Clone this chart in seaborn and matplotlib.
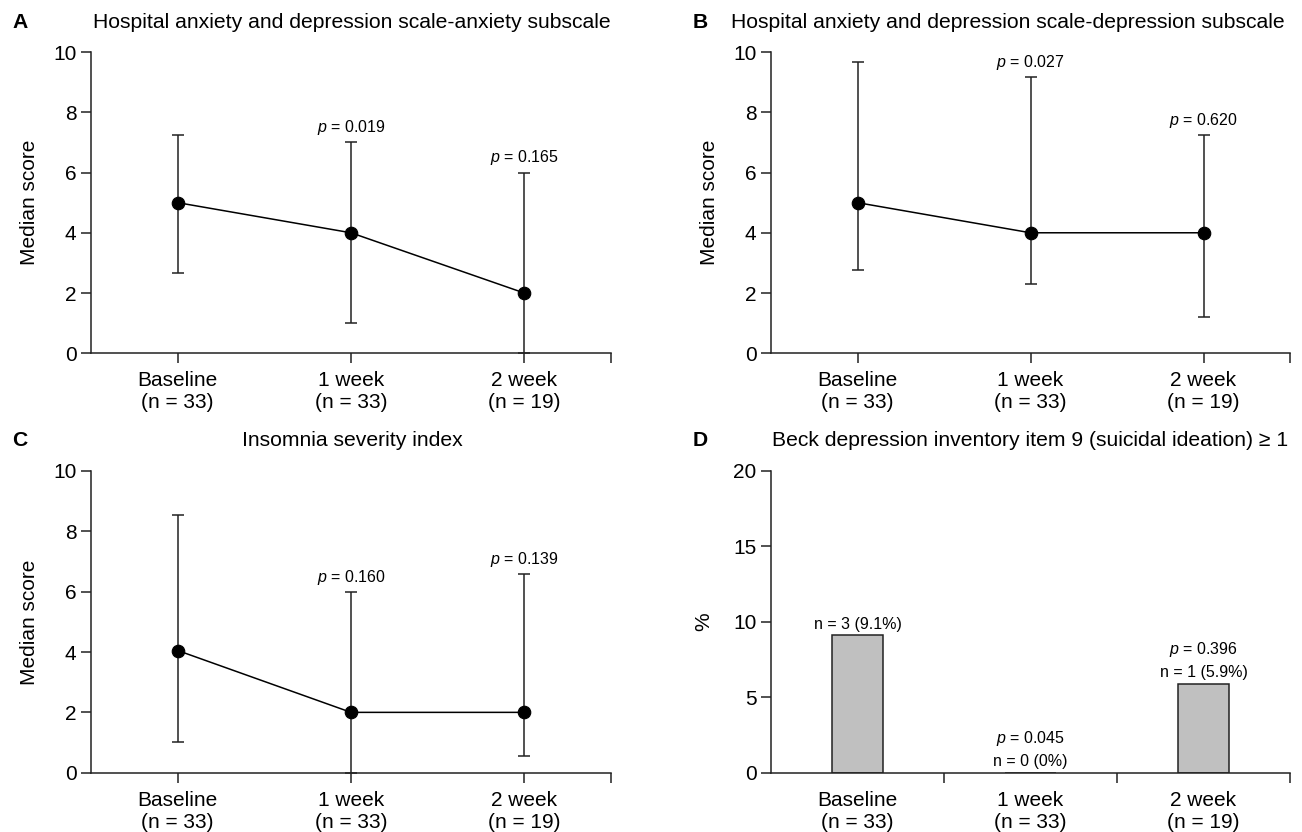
import matplotlib
matplotlib.use("Agg")
import matplotlib.pyplot as plt
import seaborn as sns
import pandas as pd

sns.set_style("ticks")
plt.rcParams['font.family'] = ['Liberation Sans', 'DejaVu Sans']
plt.rcParams['mathtext.fontset'] = 'custom'
plt.rcParams['mathtext.rm'] = 'Liberation Sans'
plt.rcParams['mathtext.it'] = 'Liberation Sans:italic'
plt.rcParams['text.color'] = 'black'
plt.rcParams['axes.labelcolor'] = 'black'
plt.rcParams['axes.edgecolor'] = '#222222'

# data
categories = ['Baseline\n(n = 33)', '1 week\n(n = 33)', '2 week\n(n = 19)']

hads_anx_median = [5.0, 4.0, 2.0]
hads_anx_low = [2.67, 1.0, 0.0]
hads_anx_high = [7.25, 7.0, 6.0]
hads_anx_p = [None, '0.019', '0.165']

hads_dep_median = [5.0, 4.0, 4.0]
hads_dep_low = [2.75, 2.3, 1.22]
hads_dep_high = [9.67, 9.17, 7.23]
hads_dep_p = [None, '0.027', '0.620']

isi_median = [4.05, 2.0, 2.0]
isi_low = [1.03, 0.0, 0.55]
isi_high = [8.54, 6.0, 6.59]
isi_p = [None, '0.160', '0.139']

bdi_pct = [9.1, 0.0, 5.9]
bdi_n = ['n = 3 (9.1%)', 'n = 0 (0%)', 'n = 1 (5.9%)']
bdi_p = [None, '0.045', '0.396']

W, H = 1302, 832
TICK_FS = 15
TITLE_FS = 15.2
SMALL_FS = 11.5
INK = '#222222'


def style_axis(ax):
    sns.despine(ax=ax)
    for sp in ax.spines.values():
        sp.set_linewidth(1.1)
        sp.set_color(INK)
    ax.tick_params(axis='both', which='both', direction='out', length=7,
                   width=1.1, labelsize=TICK_FS, color=INK, labelcolor='black')
    ax.tick_params(axis='x', pad=6)
    ax.set_xlim(-0.5, 2.5)


def line_panel(ax, median, low, high, pvals):
    df = pd.DataFrame({'time': categories, 'score': median})
    err_lo = [m - l for m, l in zip(median, low)]
    err_hi = [h - m for m, h in zip(median, high)]
    ax.errorbar(range(len(median)), median, yerr=[err_lo, err_hi], fmt='none',
                ecolor=INK, elinewidth=1.1, capsize=4.5, capthick=1.1, zorder=2)
    sns.pointplot(data=df, x='time', y='score', color='black', markers='o',
                  linewidth=1.1, markersize=9, errorbar=None, ax=ax, zorder=3)
    for i, p in enumerate(pvals):
        if p:
            ax.text(i, high[i] + 0.17, '$p$ = ' + p, ha='center', va='bottom',
                    fontsize=SMALL_FS)
    style_axis(ax)
    ax.set_ylim(0, 10)
    ax.set_yticks([0, 2, 4, 6, 8, 10])
    ax.set_xticks([0, 1, 2])
    ax.set_xticks([2.5], minor=True)
    ax.set_xticklabels(categories)
    ax.set_xlabel('')
    ax.set_ylabel('Median score', fontsize=TICK_FS, labelpad=10)


fig = plt.figure(figsize=(W / 100, H / 100), dpi=100)

top_y, bot_y = 52, 353.3
top_y2, bot_y2 = 471, 772.7
axA = fig.add_axes([91 / W, 1 - bot_y / H, (611 - 91) / W, (bot_y - top_y) / H])
axB = fig.add_axes([771 / W, 1 - bot_y / H, (1290 - 771) / W, (bot_y - top_y) / H])
axC = fig.add_axes([91 / W, 1 - bot_y2 / H, (611 - 91) / W, (bot_y2 - top_y2) / H])
axD = fig.add_axes([771 / W, 1 - bot_y2 / H, (1290 - 771) / W, (bot_y2 - top_y2) / H])

line_panel(axA, hads_anx_median, hads_anx_low, hads_anx_high, hads_anx_p)
line_panel(axB, hads_dep_median, hads_dep_low, hads_dep_high, hads_dep_p)
line_panel(axC, isi_median, isi_low, isi_high, isi_p)

# panel D: bars
dfD = pd.DataFrame({'time': categories, 'pct': bdi_pct})
sns.barplot(data=dfD, x='time', y='pct', color='#c0c0c0', edgecolor=INK,
            linewidth=1.1, width=0.3, saturation=1, ax=axD)
for i, (v, n, p) in enumerate(zip(bdi_pct, bdi_n, bdi_p)):
    axD.text(i, v + 0.75, n, ha='center', va='center', fontsize=SMALL_FS)
    if p:
        axD.text(i, v + 2.3, '$p$ = ' + p, ha='center', va='center', fontsize=SMALL_FS)
style_axis(axD)
axD.set_ylim(0, 20)
axD.set_yticks([0, 5, 10, 15, 20])
axD.set_xticks([0, 1, 2])
axD.set_xticks([0.5, 1.5, 2.5], minor=True)
axD.tick_params(axis='x', which='major', length=0, pad=13)
axD.set_xticklabels(categories)
axD.set_xlabel('')
axD.set_ylabel('%', fontsize=TICK_FS, labelpad=14)

# titles and panel letters
titles = [
    ('A', 12, 22, 'Hospital anxiety and depression scale-anxiety subscale', 352),
    ('B', 693, 22, 'Hospital anxiety and depression scale-depression subscale', 1008),
    ('C', 12, 441, 'Insomnia severity index', 352),
    ('D', 693, 441, 'Beck depression inventory item 9 (suicidal ideation) \u2265 1', 1030),
]
for letter, lx, y, title, tx in titles:
    fig.text(lx / W, 1 - y / H, letter, ha='left', va='center',
             fontsize=TITLE_FS, fontweight='bold')
    fig.text(tx / W, 1 - y / H, title, ha='center', va='center', fontsize=TITLE_FS)

fig.savefig('out.png', dpi=100)
